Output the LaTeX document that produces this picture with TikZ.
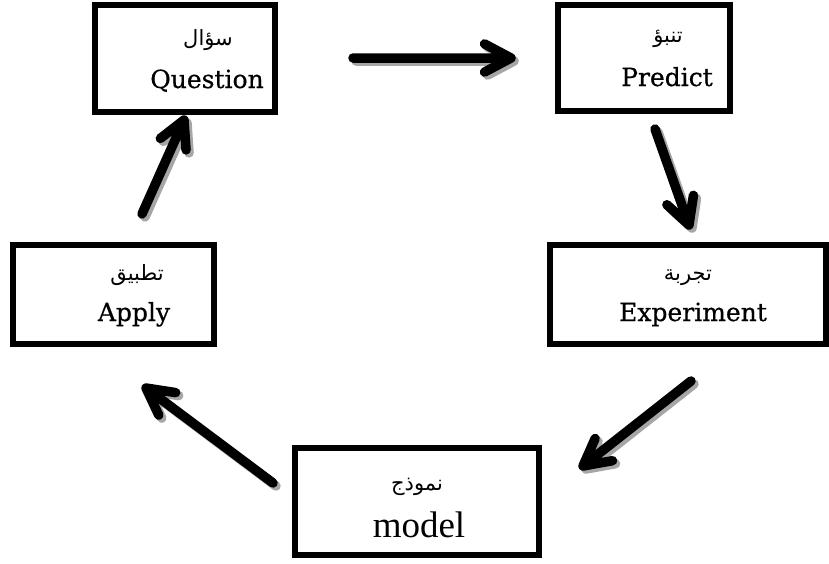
\documentclass[tikz,border=0pt]{standalone}
\usepackage{fontspec}
\setmainfont{DejaVu Serif}
\newfontfamily\enfont[FakeBold=0.6]{DejaVu Serif}
\newfontfamily\arabicfont[Script=Arabic]{DejaVu Sans}
\newfontfamily\timesfont{Liberation Serif}
\TeXXeTstate=1
\usetikzlibrary{calc}
\newcommand\fatarrow[2]{%
  \draw[shaft, black!35, transform canvas={xshift=3pt,yshift=-3pt}] (#1) -- (#2)
     ($(#2)!30pt!28:(#1)$) -- (#2) -- ($(#2)!30pt!-28:(#1)$);
  \draw[shaft, black] (#1) -- (#2)
     ($(#2)!30pt!28:(#1)$) -- (#2) -- ($(#2)!30pt!-28:(#1)$);
}
\begin{document}
\begin{tikzpicture}[x=1pt,y=-1pt,
  box/.style={draw=black, line width=6pt, inner sep=0pt, fill=white},
  ar/.style={font=\arabicfont\fontsize{21}{24}\selectfont, anchor=base, inner sep=0pt},
  en/.style={font=\enfont\fontsize{25}{28}\selectfont, anchor=base, inner sep=0pt},
  shaft/.style={line width=9.5pt, line cap=round, line join=round},
]
\useasboundingbox (0,0) rectangle (829,563);
\fill[white] (0,0) rectangle (829,563);

% boxes
\node[box, minimum width=180pt, minimum height=107pt] (question) at (185,58) {};
\node[box, minimum width=172pt, minimum height=106pt] (predict) at (644,58) {};
\node[box, minimum width=276pt, minimum height=99pt] (experiment) at (688,294.5) {};
\node[box, minimum width=201pt, minimum height=99pt] (apply) at (113.5,294.5) {};
\node[box, minimum width=244pt, minimum height=107pt] (model) at (417,501.5) {};

% texts
\node[ar] (qar) at (208,45) {\beginR سؤال\endR};
\node[en] (qen) at (207,88) {Question};
\node[ar] (par) at (668,42) {\beginR تنبؤ\endR};
\node[en] (pen) at (667,86) {Predict};
\node[ar] (ear) at (688,280) {\beginR تجربة\endR};
\node[en] (een) at (693,321) {Experiment};
\node[ar] (aar) at (137,280) {\beginR تطبيق\endR};
\node[en] (aen) at (134,321) {Apply};
\node[ar] (mar) at (417,490) {\beginR نموذج\endR};
\node[en, font=\timesfont\fontsize{37}{40}\selectfont] (men) at (419,537) {model};

% arrow end points
\coordinate (a1s) at (353,58);  \coordinate (a1e) at (511,58);
\coordinate (a2s) at (655,129); \coordinate (a2e) at (689,225);
\coordinate (a3s) at (691,381); \coordinate (a3e) at (583,466);
\coordinate (a4s) at (273,483); \coordinate (a4e) at (146,388);
\coordinate (a5s) at (142,214); \coordinate (a5e) at (184,120);

\fatarrow{a1s}{a1e}
\fatarrow{a2s}{a2e}
\fatarrow{a3s}{a3e}
\fatarrow{a4s}{a4e}
\fatarrow{a5s}{a5e}
\end{tikzpicture}
\end{document}
